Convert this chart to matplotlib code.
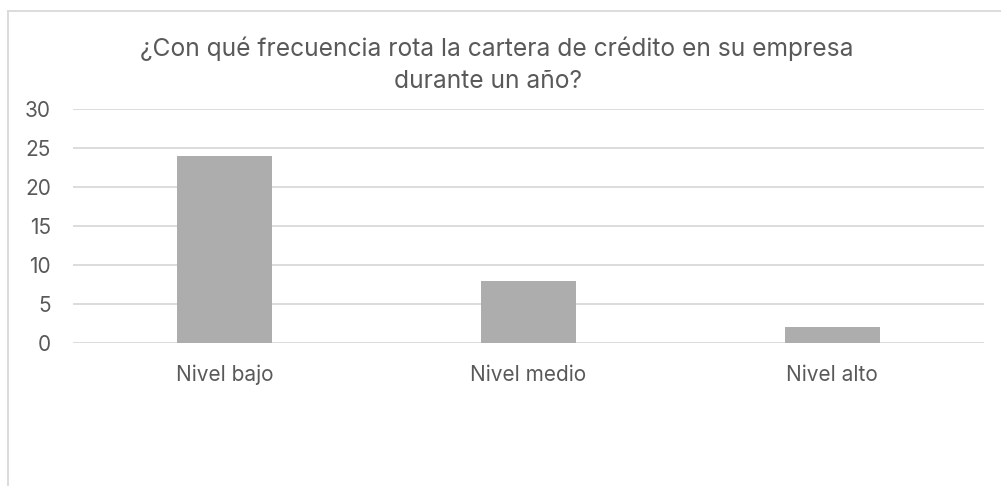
import matplotlib.pyplot as plt
from matplotlib.lines import Line2D

plt.rcParams['font.family'] = ['Inter', 'DejaVu Sans']

categorias = ["Nivel bajo", "Nivel medio", "Nivel alto"]
frecuencias = [24, 8, 2]
marcas_y = [0, 5, 10, 15, 20, 25, 30]
titulo = ["¿Con qué frecuencia rota la cartera de crédito en su empresa",
          "durante un año?"]

gris_texto = "#595959"
gris_linea = "#D9D9D9"

fig = plt.figure(figsize=(10.01, 4.86), dpi=100)
ax = fig.add_axes([73 / 1001, 1 - 343 / 486, (984 - 73) / 1001, (343 - 109.5) / 486])

x = range(len(categorias))
ax.bar(x, frecuencias, width=0.313, color="#ADADAD", zorder=3)

ax.set_xlim(-0.5, len(categorias) - 0.5)
ax.set_ylim(0, 30)
ax.set_yticks(marcas_y)
ax.set_xticks(list(x))
ax.set_xticklabels(categorias)
ax.grid(axis="y", color=gris_linea, linewidth=1.3, zorder=0)
ax.tick_params(axis="both", length=0, labelsize=15, labelcolor=gris_texto)
ax.tick_params(axis="x", pad=15.5)
ax.tick_params(axis="y", pad=16)
for s in ax.spines.values():
    s.set_visible(False)

# título en dos líneas centradas
fig.text(0.496, 1 - 55.7 / 486, titulo[0], ha="center", va="baseline", fontsize=17.7,
         color=gris_texto)
fig.text(0.488, 1 - 88.3 / 486, titulo[1], ha="center", va="baseline", fontsize=17.7,
         color=gris_texto)

# marco del gráfico (solo borde superior e izquierdo visibles)
fig.add_artist(Line2D([8 / 1001, 8 / 1001], [0, 1 - 11 / 486], transform=fig.transFigure,
                      color=gris_linea, linewidth=1.3))
fig.add_artist(Line2D([8 / 1001, 1], [1 - 11 / 486, 1 - 11 / 486], transform=fig.transFigure,
                      color=gris_linea, linewidth=1.3))

fig.savefig("out.png", dpi=100)
